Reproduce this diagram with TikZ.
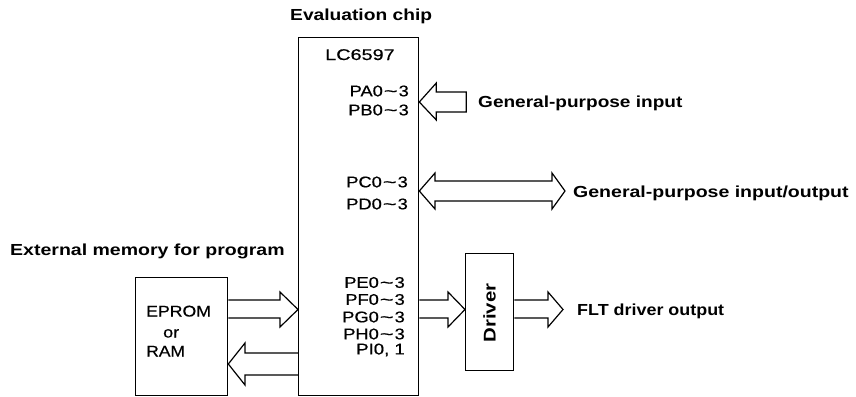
\documentclass[tikz,border=0pt]{standalone}
\usepackage{fontspec}
\setmainfont{Liberation Sans}
\newfontfamily\medfont{Liberation Sans}[BoldFont={Liberation Sans}, BoldFeatures={FakeBold=0.5}]
\usetikzlibrary{calc}
\newcommand\wx[2]{\scalebox{#1}[1]{#2}}
\newcommand\tl{\hspace{0.8pt}\scalebox{1.3}[1]{\textasciitilde}\hspace{0.8pt}}
\begin{document}
\begin{tikzpicture}[x=1pt,y=-1pt,
  lab/.style={font=\bfseries\fontsize{16}{16}\selectfont, inner sep=0pt, anchor=base west},
  pin/.style={font={\medfont\bfseries\fontsize{15.5}{16}\selectfont}, inner sep=0pt, anchor=east},
  txt/.style={font={\medfont\bfseries\fontsize{15.5}{16}\selectfont}, inner sep=0pt, anchor=base west},
  box/.style={draw, line width=1.3pt, inner sep=0pt},
  blk/.style={draw, line width=1.2pt, line join=miter}]
\useasboundingbox (0,0) rectangle (856,396);
% boxes
\node[box, anchor=north west, minimum width=120pt, minimum height=358pt] (chip) at (298,37) {};
\node[box, anchor=north west, minimum width=92pt, minimum height=118pt] (mem) at (135,277) {};
\node[box, anchor=north west, minimum width=48pt, minimum height=117pt] (drv) at (465,253) {};
% titles
\node[lab] (tchip) at (290,21) {\wx{1.2}{Evaluation chip}};
\node[lab] (tmem) at (10,255.5) {\wx{1.22}{External memory for program}};
\node[txt] (part) at (325,60) {\wx{1.28}{LC6597}};
% pins
\node[pin] (pa) at (409,91) {\wx{1.18}{PA0\tl3}};
\node[pin] (pb) at (409,110) {\wx{1.18}{PB0\tl3}};
\node[pin] (pc) at (408,182) {\wx{1.18}{PC0\tl3}};
\node[pin] (pd) at (408,204) {\wx{1.18}{PD0\tl3}};
\node[pin] (pe) at (405,282.5) {\wx{1.18}{PE0\tl3}};
\node[pin] (pf) at (405,299.5) {\wx{1.18}{PF0\tl3}};
\node[pin] (pg) at (405,317) {\wx{1.18}{PG0\tl3}};
\node[pin] (ph) at (405,334) {\wx{1.18}{PH0\tl3}};
\node[pin] (pi) at (405,350) {\wx{1.2}{PI0, 1}};
% memory text
\node[txt] (ep) at (146,316.5) {\wx{1.14}{EPROM}};
\node[txt] (or) at (163,337.5) {\wx{1.16}{or}};
\node[txt] (ram) at (146,356.5) {\wx{1.13}{RAM}};
% driver text
\node[font=\bfseries\fontsize{17}{17}\selectfont, inner sep=0pt, rotate=90] (drvt) at ($(drv.center)+(0,1)$) {\wx{1.2}{Driver}};
% outside labels
\node[lab] (lin) at (478,107.5) {\wx{1.19}{General-purpose input}};
\node[lab] (lio) at (573,197) {\wx{1.22}{General-purpose input/output}};
\node[lab] (lout) at (577,315) {\wx{1.12}{FLT driver output}};
% block arrows
\draw[blk] (chip.east |- 0,102) -- ++(17,-19) -- ++(0,9) -- ++(30,0) -- ++(0,20) -- ++(-30,0) -- ++(0,8) -- cycle;
\draw[blk] (chip.east |- 0,191) -- (435,173) -- (435,181) -- (552,181) -- (552,173) -- (565,191)
  -- (552,209) -- (552,201) -- (435,201) -- (435,209) -- cycle;
\draw[blk] (mem.east |- 0,300) -- (280,300) -- (280,292) -- (chip.west |- 0,309.5) -- (280,327) -- (280,318) -- (mem.east |- 0,318);
\draw[blk] (chip.west |- 0,353) -- (245,353) -- (245,343) -- (mem.east |- 0,364) -- (245,385) -- (245,375) -- (chip.west |- 0,375);
\draw[blk] (chip.east |- 0,300) -- (448,300) -- (448,292) -- (drv.west |- 0,309.5) -- (448,327) -- (448,318) -- (chip.east |- 0,318);
\draw[blk] (drv.east |- 0,300) -- (548,300) -- (548,292) -- (563,309.5) -- (548,327) -- (548,318) -- (drv.east |- 0,318);
\end{tikzpicture}
\end{document}
